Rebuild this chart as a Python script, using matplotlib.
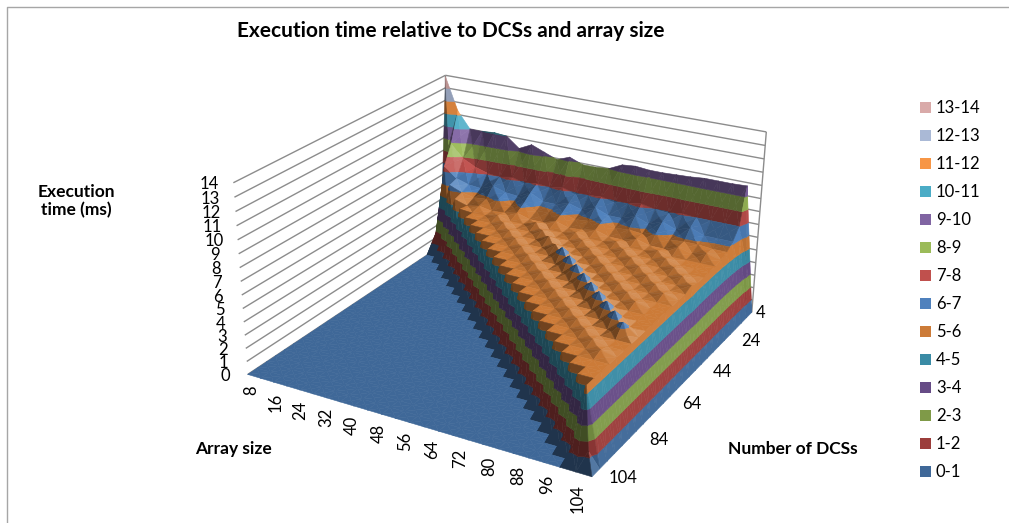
import numpy as np
import matplotlib
matplotlib.use("Agg")
import matplotlib.pyplot as plt
from matplotlib.lines import Line2D
from matplotlib.patches import Patch
from matplotlib.transforms import Affine2D
from mpl_toolkits.mplot3d.art3d import Line3DCollection, Poly3DCollection

plt.rcParams["font.family"] = ["Lato", "DejaVu Sans"]

array_sizes = list(range(8, 105, 4))
dcs_counts = list(range(4, 105, 4))
array_ticks = list(range(8, 105, 8))
dcs_ticks = [4, 24, 44, 64, 84, 104]
z_ticks = list(range(15))

band_labels = ["0-1", "1-2", "2-3", "3-4", "4-5", "5-6", "6-7", "7-8", "8-9",
               "9-10", "10-11", "11-12", "12-13", "13-14"]
band_colors = ["#3F6898", "#9C3D3B", "#7F9A48", "#664B86", "#3A8BA5", "#CC7B38", "#4F81BD",
               "#C0504D", "#9BBB59", "#8064A2", "#4BACC6", "#F79646", "#AAB9D6", "#D9AAA9"]

# measured times, one list per DCS count; each list ends at array size 100
# and the cells in front of it (array size too small) are 0
dcs_004 = [13.9, 11.3, 10.0, 10.0, 10.1, 10.0, 9.2, 9.7, 9.3, 8.9, 9.3, 8.9, 8.9, 9.0, 9.5, 9.6, 9.5, 9.5, 9.55, 9.6, 9.7, 9.7, 9.7, 9.75]
dcs_008 = [8.9, 7.9, 7.4, 7.1, 7.0, 7.2, 6.9, 7.1, 7.0, 7.2, 6.9, 7.0, 7.1, 6.9, 7.0, 7.2, 7.0, 6.9, 7.1, 7.0, 7.0, 7.0, 7.0]
dcs_012 = [7.4, 6.6, 6.3, 6.2, 6.6, 6.3, 6.2, 6.7, 6.2, 6.2, 6.5, 6.2, 6.6, 6.2, 6.2, 6.6, 6.2, 6.6, 6.2, 6.6, 6.2, 6.2, 6.2]
dcs_016 = [6.4, 6.0, 5.8, 5.9, 6.1, 5.8, 6.2, 5.8, 5.9, 6.1, 5.8, 5.9, 6.1, 5.8, 5.9, 5.8, 6.1, 5.8, 5.9, 5.9, 5.8, 5.8]
dcs_020 = [5.8, 5.5, 5.7, 5.5, 5.6, 5.8, 5.5, 5.5, 5.8, 5.5, 5.6, 5.8, 5.5, 5.5, 5.8, 5.5, 5.5, 5.85, 5.6, 5.85, 5.6]
dcs_024 = [5.6, 5.5, 5.5, 5.75, 5.5, 5.5, 5.85, 5.5, 5.5, 5.75, 5.5, 5.5, 5.75, 5.5, 5.5, 5.75, 5.5, 5.5, 5.5, 5.5]
dcs_028 = [5.5, 5.5, 5.5, 5.75, 5.5, 5.5, 5.85, 5.5, 5.5, 5.75, 5.5, 5.5, 5.75, 5.5, 5.5, 5.75, 5.5, 5.5, 5.5]
dcs_032 = [5.5, 5.5, 5.5, 5.75, 5.5, 5.5, 6.0, 5.5, 5.5, 5.75, 5.5, 5.5, 5.75, 5.5, 5.5, 5.75, 5.5, 5.5]
dcs_036 = [5.5, 5.5, 5.5, 5.75, 5.5, 5.5, 6.0, 5.5, 5.5, 5.75, 5.5, 5.5, 5.75, 5.5, 5.5, 5.75, 5.5]
dcs_040 = [5.5, 5.5, 5.5, 5.75, 5.5, 5.5, 6.4, 5.5, 5.5, 5.75, 5.5, 5.5, 5.75, 5.5, 5.5, 5.75]
dcs_044 = [5.5, 5.5, 5.5, 5.75, 5.5, 5.5, 6.4, 5.5, 5.5, 5.75, 5.5, 5.5, 5.75, 5.5, 5.5]
dcs_048 = [5.5, 5.5, 5.5, 5.75, 5.5, 5.5, 6.4, 5.5, 5.5, 5.75, 5.5, 5.5, 5.75, 5.5]
dcs_052 = [5.5, 5.5, 5.5, 5.75, 5.5, 5.5, 6.4, 5.5, 5.5, 5.75, 5.5, 5.5, 5.5]
dcs_056 = [5.5, 5.5, 5.5, 5.75, 5.5, 5.5, 6.4, 5.5, 5.5, 5.75, 5.5, 5.5]
dcs_060 = [5.5, 5.5, 5.5, 5.75, 5.5, 5.5, 6.4, 5.5, 5.5, 5.5, 5.5]
dcs_064 = [5.5, 5.5, 5.5, 5.75, 5.5, 5.5, 6.4, 5.5, 5.5, 5.5]
dcs_068 = [5.5, 5.5, 5.5, 5.75, 5.5, 5.5, 6.4, 5.5, 5.5]
dcs_072 = [5.5, 5.5, 5.5, 5.75, 5.5, 5.5, 6.3, 5.5]
dcs_076 = [5.5, 5.5, 5.5, 5.75, 5.5, 5.5, 5.5]
dcs_080 = [5.5, 5.5, 5.5, 5.75, 5.5, 5.5]
dcs_084 = [5.5, 5.5, 5.5, 5.75, 5.5]
dcs_088 = [5.5, 5.5, 5.5, 5.5]
dcs_092 = [5.5, 5.5, 5.5]
dcs_096 = [5.5, 5.5]
dcs_100 = [5.5]
dcs_104 = []

measured = [dcs_004, dcs_008, dcs_012, dcs_016, dcs_020, dcs_024, dcs_028, dcs_032, dcs_036,
            dcs_040, dcs_044, dcs_048, dcs_052, dcs_056, dcs_060, dcs_064, dcs_068, dcs_072,
            dcs_076, dcs_080, dcs_084, dcs_088, dcs_092, dcs_096, dcs_100, dcs_104]
times = np.array([[0.0] * (24 - len(r)) + r + [0.0] for r in measured])

# corners of the chart box and where they sit in the picture, to fit the camera
box_corners = [(8, 104, 0), (104, 104, 0), (104, 4, 0), (8, 4, 0), (8, 104, 14), (8, 4, 14), (104, 4, 14)]
box_pixels = [(248, 374), (592, 477), (752, 312), (447, 242), (233, 183), (446, 75), (766, 132)]


def fit_camera(world, pixels):
    rows = []
    for (x, y, z), (u, v) in zip(world, pixels):
        rows.append([x, y, z, 1, 0, 0, 0, 0, -u * x, -u * y, -u * z, -u])
        rows.append([0, 0, 0, 0, x, y, z, 1, -v * x, -v * y, -v * z, -v])
    cam = np.linalg.svd(np.array(rows, dtype=float))[2][-1].reshape(3, 4)
    mid = cam[2] @ [56, 54, 7, 1]
    if mid < 0:
        cam, mid = -cam, -mid
    # larger third coordinate means further away, as mplot3d expects
    depth = cam[2] - [0, 0, 0, mid]
    return np.vstack([cam[0], cam[1], depth, cam[2]])


def clip_band(pts, lo, hi):
    for level, sign in ((lo, 1), (hi, -1)):
        out = []
        for a, b in zip(pts, pts[1:] + pts[:1]):
            da, db = sign * (a[2] - level), sign * (b[2] - level)
            if da >= 0:
                out.append(a)
            if da * db < 0:
                t = da / (da - db)
                out.append(tuple(a[k] + t * (b[k] - a[k]) for k in range(3)))
        pts = out
        if len(pts) < 3:
            return []
    return pts


def shade_color(color, tri):
    p = np.array(tri) * [14 / 4, 9 / 4, 13]
    n = np.cross(p[1] - p[0], p[2] - p[0])
    n = n / (np.linalg.norm(n) + 1e-9)
    if n[2] < 0:
        n = -n
    f = 0.55 + 0.45 * n[2] + 0.4 * n[0] - 0.1 * n[1] + 0.5 * (n[0] - 0.5 * n[1]) * n[2] ** 2
    # the peak at the small arrays catches the light
    if p[:, 0].mean() < 28 * 14 / 4:
        f += 1.5 * n[0] * n[1]
    # stair wall along the zero area is uniformly dark
    if p[:, 2].min() == 0 and n[0] < 0.5 and n[2] < 0.9:
        f = 0.5
    rgb = np.array(matplotlib.colors.to_rgb(color))
    if f <= 1:
        return tuple(rgb * max(f, 0.5))
    return tuple(rgb + (1 - rgb) * min(0.7 * (f - 1), 0.3))


fig = plt.figure(figsize=(10.09, 5.23), dpi=100)
ax = fig.add_axes([0, 0, 1, 1], projection="3d")
ax.set_axis_off()
ax.computed_zorder = False
# work straight in picture pixels, the camera above already gives those
proj = fit_camera(box_corners, box_pixels)
ax.get_proj = lambda: proj
ax.apply_aspect = lambda position=None: None
ax.transData = Affine2D().scale(1, -1).translate(0, 523)

# walls
wall_lines = []
for z in z_ticks:
    wall_lines.append([(8, 104, z), (8, 4, z)])
    wall_lines.append([(8, 4, z), (104, 4, z)])
wall_lines.append([(8, 4, 0), (8, 4, 14)])
wall_lines.append([(104, 4, 0), (104, 4, 14)])
ax.add_collection3d(Line3DCollection(wall_lines, colors="#8C8C8C", linewidths=1, zorder=1))

# surface, split into height bands
polys, colors = [], []
for r in range(len(dcs_counts) - 1):
    for c in range(len(array_sizes) - 1):
        x0, x1 = array_sizes[c], array_sizes[c + 1]
        y0, y1 = dcs_counts[r], dcs_counts[r + 1]
        corners = [(x0, y0, times[r, c]), (x1, y0, times[r, c + 1]),
                   (x1, y1, times[r + 1, c + 1]), (x0, y1, times[r + 1, c])]
        center = tuple(np.mean(corners, axis=0))
        for k in range(4):
            tri = [corners[k], corners[(k + 1) % 4], center]
            top = max(p[2] for p in tri)
            low = min(p[2] for p in tri)
            for b, col in enumerate(band_colors):
                if top < b or low > b + 1 or (top == b and b > 0):
                    continue
                piece = clip_band(tri, b, b + 1)
                if piece:
                    polys.append(piece)
                    colors.append(shade_color(col, tri))
surface = Poly3DCollection(polys, facecolors=colors, edgecolors=colors, linewidths=0.4, zorder=2)
ax.add_collection3d(surface)


def px_text(x, y, s, **kw):
    return fig.text(x / 1009, 1 - y / 523, s, color="black", **kw)


def label_3d(x, y, z, s, **kw):
    u, v, _, w = proj @ [x, y, z, 1]
    return px_text(u / w, v / w, s, fontsize=tick_size, **kw)


# tick labels
tick_size = 12
for z in z_ticks:
    label_3d(3.6, 107.7, z, str(z), ha="center", va="center")
for a in array_ticks:
    label_3d(12.2 + (a - 8) * 0.941, 108.3, 0, str(a), rotation=90, ha="center", va="top")
for d in dcs_ticks:
    dx, dy = (2.1, -1) if d == 4 else (6.15, -3.1)
    label_3d(104 + dx, d + dy, 0, str(d), ha="center", va="center")

px_text(450.5, 31, "Execution time relative to DCSs and array size", fontsize=15, fontweight="bold", ha="center", va="center")
px_text(76, 201, "Execution\ntime (ms)", fontsize=12.5, fontweight="bold", ha="center", va="center", linespacing=1.2)
px_text(233, 449, "Array size", fontsize=12.5, fontweight="bold", ha="center", va="center")
px_text(793, 449, "Number of DCSs", fontsize=12.5, fontweight="bold", ha="center", va="center")

handles = [Patch(facecolor=c, label=l) for c, l in zip(band_colors, band_labels)][::-1]
fig.legend(handles=handles, loc="upper left", bbox_to_anchor=(920 / 1009, 1 - 100 / 523), frameon=False,
           fontsize=tick_size, labelspacing=0.72, handlelength=0.65, handleheight=0.65,
           handletextpad=0.3, borderpad=0, borderaxespad=0)

# chart border, only the top and left sides show
border_x = [6.5 / 1009, 6.5 / 1009, 1]
border_y = [0, 1 - 7 / 523, 1 - 7 / 523]
fig.add_artist(Line2D(border_x, border_y, color="#A6A6A6", lw=1))

fig.savefig("out.png", dpi=100)
